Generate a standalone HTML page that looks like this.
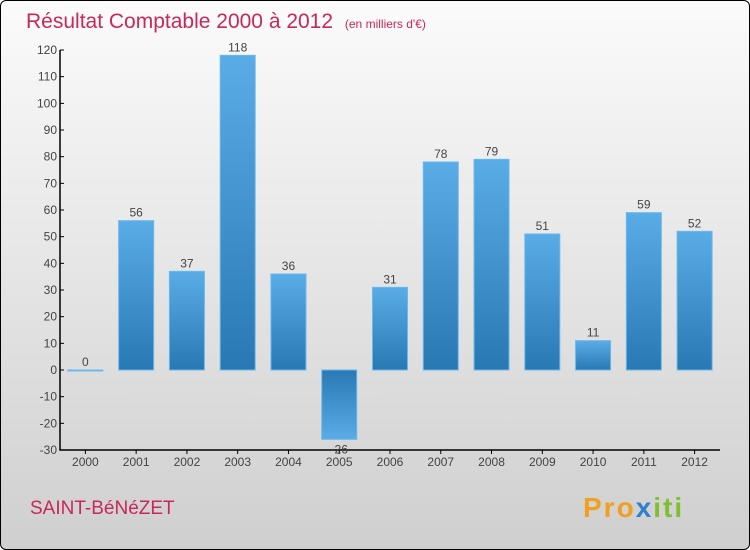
<!DOCTYPE html>
<html><head><meta charset="utf-8"><style>
body{margin:0;}
#c{width:748px;height:548px;border:1px solid #000;border-radius:6px;overflow:hidden;background:linear-gradient(#fbfbfb,#cfcfcf);position:relative;font-family:"Liberation Sans",sans-serif;}
svg{position:absolute;left:-1px;top:-1px;}
</style></head><body>
<div id="c">
<svg id="s" width="750" height="550">
<defs>
<linearGradient id="g" x1="0" y1="0" x2="0" y2="1"><stop offset="0" stop-color="#5aace6"/><stop offset="1" stop-color="#2878b4"/></linearGradient>
<linearGradient id="gn" x1="0" y1="0" x2="0" y2="1"><stop offset="0" stop-color="#2878b4"/><stop offset="1" stop-color="#5aace6"/></linearGradient>
</defs>
<text x="26" y="28" font-size="21" fill="#c8285a">Résultat Comptable 2000 à 2012 <tspan font-size="12" dx="6">(en milliers d'€)</tspan></text>
<text x="30" y="514" font-size="19" fill="#c8285a">SAINT-BéNéZET</text>
<text x="583" y="517" font-size="28" font-weight="bold" letter-spacing="2"><tspan fill="#f0a020">Pro</tspan><tspan fill="#3080d0">x</tspan><tspan fill="#80c030">iti</tspan></text>
</svg>
</div>
<script>
const categories=["2000","2001","2002","2003","2004","2005","2006","2007","2008","2009","2010","2011","2012"];
const values=[0,56,37,118,36,-26,31,78,79,51,11,59,52];
const yTicks=[-30,-20,-10,0,10,20,30,40,50,60,70,80,90,100,110,120];
const s=document.getElementById('s');
const NS='http://www.w3.org/2000/svg';
const x0=60,x1=720,yTop=50,yBot=450,vMin=-30,vMax=120;
const y=v=>yBot-(v-vMin)*(yBot-yTop)/(vMax-vMin);
const band=(x1-x0)/categories.length;
const xc=i=>x0+band*(i+0.5);
function mk(t,a){const e=document.createElementNS(NS,t);for(const k in a)e.setAttribute(k,a[k]);s.appendChild(e);return e;}
const ax=mk('path',{d:`M${x0} ${yTop}V${yBot}H${x1}`,stroke:'#000','stroke-width':1.5,fill:'none'});


yTicks.forEach(v=>{
 const l=mk('line',{x1:x0,x2:x0+4,y1:y(v),y2:y(v),stroke:'#000'});
 
 
 const t=mk('text',{x:x0-3,y:y(v)+4,'font-size':12,fill:'#444','text-anchor':'end'});
 t.textContent=v;
 
 
});
categories.forEach((c,i)=>{
 const l=mk('line',{x1:xc(i),x2:xc(i),y1:yBot,y2:yBot+4,stroke:'#000'});
 
 
 const t=mk('text',{x:xc(i),y:yBot+16,'font-size':12,fill:'#444','text-anchor':'middle'});
 t.textContent=c;
 
 
 const v=values[i];
 const top=Math.min(y(v),y(0)),h=Math.max(Math.abs(y(v)-y(0)),1);
 const r=mk('rect',{x:xc(i)-17.5,y:top,width:35,height:h,fill:v<0?'url(#gn)':'url(#g)',stroke:'#6ab8ee','stroke-width':1});
 
 
 const vl=mk('text',{x:xc(i),y:(v<0?y(v)+4:y(v)-4)+(v<0?10:0),'font-size':12,fill:'#444','text-anchor':'middle'});
 vl.textContent=v;
 
 
});
</script>
</body></html>
